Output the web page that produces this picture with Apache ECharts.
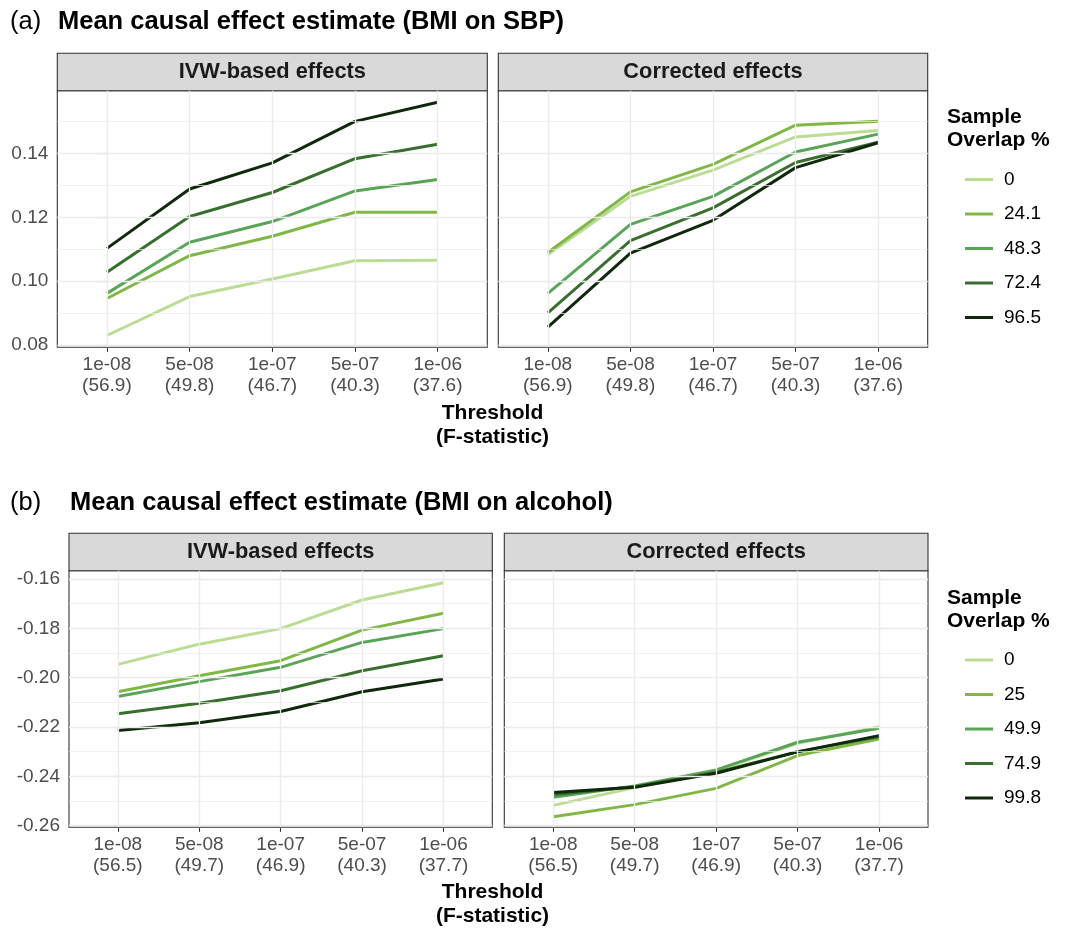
<!DOCTYPE html>
<html><head><meta charset="utf-8">
<script src="https://cdn.jsdelivr.net/npm/echarts@6/dist/echarts.min.js"></script>
<style>html,body{margin:0;padding:0;background:#fff}#c{width:1070px;height:929px}</style>
</head><body><div id="c"></div>
<script>
// ---- data ----
const thresholds = ['1e-08', '5e-08', '1e-07', '5e-07', '1e-06'];
const fstatA = ['56.9', '49.8', '46.7', '40.3', '37.6'];
const fstatB = ['56.5', '49.7', '46.9', '40.3', '37.7'];
const overlapA = ['0', '24.1', '48.3', '72.4', '96.5'];
const overlapB = ['0', '25', '49.9', '74.9', '99.8'];
const yTicksA = [0.08, 0.10, 0.12, 0.14];
const yMinorA = [0.09, 0.11, 0.13, 0.15];
const yTicksB = [-0.26, -0.24, -0.22, -0.20, -0.18, -0.16];
const yMinorB = [-0.25, -0.23, -0.21, -0.19, -0.17];

// panel (a) IVW-based effects, one array per overlap level
const ivwA_0 = [0.0830, 0.0952, 0.1007, 0.1064, 0.1066];
const ivwA_24 = [0.0946, 0.1080, 0.1141, 0.1216, 0.1216];
const ivwA_48 = [0.0962, 0.1122, 0.1187, 0.1283, 0.1319];
const ivwA_72 = [0.1028, 0.1203, 0.1278, 0.1384, 0.1429];
const ivwA_96 = [0.1103, 0.1289, 0.1371, 0.1501, 0.1561];
// panel (a) corrected effects
const corA_0 = [0.1084, 0.1266, 0.1348, 0.1452, 0.1472];
const corA_24 = [0.1090, 0.1280, 0.1366, 0.1489, 0.1501];
const corA_48 = [0.0962, 0.1178, 0.1266, 0.1405, 0.1461];
const corA_72 = [0.0901, 0.1127, 0.1230, 0.1372, 0.1436];
const corA_96 = [0.0856, 0.1088, 0.1191, 0.1356, 0.1434];
// panel (b) IVW-based effects
const ivwB_0 = [-0.1946, -0.1864, -0.1801, -0.1685, -0.1615];
const ivwB_25 = [-0.2057, -0.1992, -0.1931, -0.1807, -0.1739];
const ivwB_49 = [-0.2076, -0.2016, -0.1958, -0.1857, -0.1801];
const ivwB_74 = [-0.2146, -0.2104, -0.2053, -0.1972, -0.1911];
const ivwB_99 = [-0.2214, -0.2183, -0.2137, -0.2057, -0.2005];
// panel (b) corrected effects
const corB_0 = [-0.2518, -0.2446, -0.2377, -0.2266, -0.2199];
const corB_25 = [-0.2564, -0.2515, -0.2449, -0.2316, -0.2249];
const corB_49 = [-0.2485, -0.2439, -0.2374, -0.2262, -0.2205];
const corB_74 = [-0.2475, -0.2442, -0.2384, -0.2300, -0.2240];
const corB_99 = [-0.2466, -0.2445, -0.2388, -0.2301, -0.2235];

const colors = ['#badc93', '#80b747', '#5aa458', '#386f2e', '#10290c'];
const FONT = '"Liberation Sans", Arial, Helvetica, sans-serif';

// ---- layout ----
const grids = [
  { left: 57.3, top: 90.7, width: 430, height: 256.6 },
  { left: 498.3, top: 90.7, width: 429.4, height: 256.6 },
  { left: 69, top: 570.7, width: 423.3, height: 256.6 },
  { left: 504.3, top: 570.7, width: 423.7, height: 256.6 }
];
const yRanges = [[0.0793, 0.1597], [0.0793, 0.1597], [-0.2607, -0.1566], [-0.2607, -0.1566]];
const panelSeries = [
  [ivwA_0, ivwA_24, ivwA_48, ivwA_72, ivwA_96],
  [corA_0, corA_24, corA_48, corA_72, corA_96],
  [ivwB_0, ivwB_25, ivwB_49, ivwB_74, ivwB_99],
  [corB_0, corB_25, corB_49, corB_74, corB_99]
];
const panelNames = [overlapA, overlapA, overlapB, overlapB];
const panelFstat = [fstatA, fstatA, fstatB, fstatB];
const panelYT = [yTicksA, yTicksA, yTicksB, yTicksB];
const panelYM = [yMinorA, yMinorA, yMinorB, yMinorB];
const stripTitles = ['IVW-based effects', 'Corrected effects', 'IVW-based effects', 'Corrected effects'];

const xIdx = [0, 1, 2, 3, 4];
const xAxes = [], yAxes = [], series = [], graphics = [];

grids.forEach((g, k) => {
  const fs = panelFstat[k];
  xAxes.push({
    gridIndex: k, type: 'value', min: -0.6, max: 4.6,
    axisLine: { show: false },
    splitLine: { show: false },
    axisTick: { show: true, customValues: xIdx, length: 4.5, lineStyle: { color: '#333', width: 1.1 } },
    axisLabel: {
      customValues: xIdx, margin: 7, color: '#4d4d4d', fontSize: 19, fontFamily: FONT, lineHeight: 21,
      formatter: v => thresholds[Math.round(v)] + '\n(' + fs[Math.round(v)] + ')'
    }
  });
  const isLeft = (k % 2 === 0);
  yAxes.push({
    gridIndex: k, type: 'value', min: yRanges[k][0], max: yRanges[k][1],
    axisLine: { show: false },
    splitLine: { show: false },
    axisTick: { show: isLeft, customValues: panelYT[k], length: 4.5, lineStyle: { color: '#333', width: 1.1 } },
    axisLabel: {
      show: isLeft, customValues: panelYT[k], margin: 9, color: '#4d4d4d', fontSize: 19, fontFamily: FONT,
      formatter: v => v.toFixed(2)
    }
  });
  // grid lines (drawn through the axes' scales)
  const ml = [];
  panelYM[k].forEach(v => ml.push({ yAxis: v, lineStyle: { color: '#ededed', width: 0.7, type: 'solid' } }));
  panelYT[k].forEach(v => ml.push({ yAxis: v, lineStyle: { color: '#ebebeb', width: 1.3, type: 'solid' } }));
  xIdx.forEach(v => ml.push({ xAxis: v, lineStyle: { color: '#ebebeb', width: 1.3, type: 'solid' } }));
  series.push({
    type: 'line', xAxisIndex: k, yAxisIndex: k, z: 1, silent: true,
    data: [], showSymbol: false,
    markLine: { silent: true, symbol: ['none', 'none'], label: { show: false }, animation: false, data: ml }
  });
  panelSeries[k].forEach((arr, s) => {
    series.push({
      type: 'line', name: panelNames[k][s], xAxisIndex: k, yAxisIndex: k, z: 3,
      data: arr.map((v, i) => [xIdx[i], v]),
      showSymbol: false, symbol: 'none',
      lineStyle: { color: colors[s], width: 3, cap: 'butt', join: 'round' },
      itemStyle: { color: colors[s] },
      emphasis: { disabled: true }
    });
  });
  // strip
  graphics.push({
    type: 'group', children: [
      { type: 'rect', shape: { x: g.left, y: g.top - 37.5, width: g.width, height: 37.5 },
        style: { fill: '#d9d9d9', stroke: '#333', lineWidth: 1.1 } },
      { type: 'text', x: g.left + g.width / 2, y: g.top - 18.75,
        style: { text: stripTitles[k], fill: '#1a1a1a', font: 'bold 21.8px ' + FONT, align: 'center', verticalAlign: 'middle' } }
    ]
  });
});

function txt(x, y, s, font, align) {
  return { type: 'text', x: x, y: y, style: { text: s, fill: '#000', font: font, align: align || 'left', verticalAlign: 'middle' } };
}
graphics.push(txt(10, 22, '(a)', '25.5px ' + FONT));
graphics.push(txt(58, 22, 'Mean causal effect estimate (BMI on SBP)', 'bold 25.5px ' + FONT));
graphics.push(txt(10, 503, '(b)', '25.5px ' + FONT));
graphics.push(txt(70, 503, 'Mean causal effect estimate (BMI on alcohol)', 'bold 25.5px ' + FONT));
graphics.push(txt(492.5, 413, 'Threshold', 'bold 21px ' + FONT, 'center'));
graphics.push(txt(492.5, 437, '(F-statistic)', 'bold 21px ' + FONT, 'center'));
graphics.push(txt(492.5, 892, 'Threshold', 'bold 21px ' + FONT, 'center'));
graphics.push(txt(492.5, 916, '(F-statistic)', 'bold 21px ' + FONT, 'center'));
graphics.push(txt(947, 117, 'Sample', 'bold 21px ' + FONT));
graphics.push(txt(947, 140, 'Overlap %', 'bold 21px ' + FONT));
graphics.push(txt(947, 598, 'Sample', 'bold 21px ' + FONT));
graphics.push(txt(947, 621, 'Overlap %', 'bold 21px ' + FONT));

function legend(top, names) {
  return {
    orient: 'vertical', left: 960, top: top, selectedMode: false,
    icon: 'rect', itemWidth: 28, itemHeight: 3, itemGap: 13.5,
    data: names,
    textStyle: { fontSize: 19, color: '#000', fontFamily: FONT, lineHeight: 21, padding: [0, 0, 0, 6] }
  };
}

const chart = echarts.init(document.getElementById('c'), null, { renderer: 'canvas' });
chart.setOption({
  animation: false,
  backgroundColor: '#fff',
  color: colors,
  grid: grids.map(g => Object.assign({ show: true, backgroundColor: '#fff', borderColor: '#333', borderWidth: 1.1, containLabel: false }, g)),
  xAxis: xAxes,
  yAxis: yAxes,
  legend: [legend(164, overlapA), legend(644.5, overlapB)],
  tooltip: { show: false },
  series: series,
  graphic: graphics
});
</script>
</body></html>
